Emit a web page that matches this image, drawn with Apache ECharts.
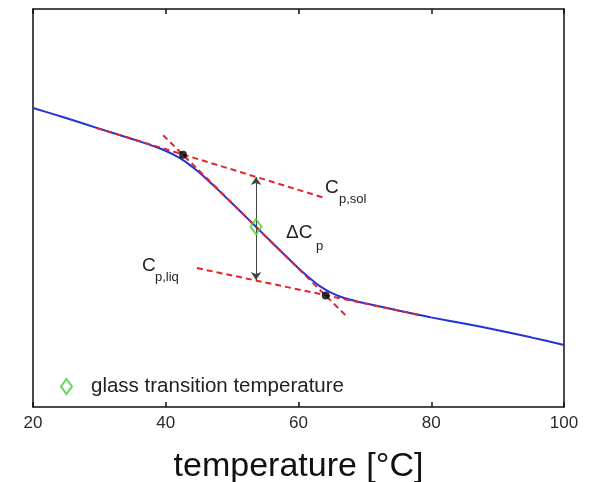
<!DOCTYPE html>
<html>
<head>
<meta charset="utf-8">
<script src="https://cdn.jsdelivr.net/npm/echarts@6/dist/echarts.min.js"></script>
<style>
html,body{margin:0;padding:0;background:#fff;}
#c{width:593px;height:482px;}
</style>
</head>
<body>
<div id="c"></div>
<script>
// x tick labels
var xTicks = [20, 40, 60, 80, 100];
// Measured curve (arbitrary y units)
var curveX = [20.00, 24.97, 29.94, 34.92, 37.63, 38.84, 40.04, 41.39, 42.60, 43.80, 44.40, 45.01, 46.21, 47.42,
              48.62, 49.98, 52.54, 54.95, 57.51, 59.92, 61.13, 62.49, 63.10, 63.69, 64.40, 65.05, 66.25, 67.46,
              68.81, 70.02, 72.43, 74.99, 77.50, 79.96, 84.93, 90.05, 95.02, 100.0];
var curveY = [75.13, 72.61, 69.95, 67.35, 65.87, 65.14, 64.32, 63.21, 62.02, 60.59, 59.81, 58.96, 57.19, 55.32,
              53.40, 51.19, 47.01, 43.05, 38.87, 35.01, 33.17, 31.28, 30.51, 29.85, 29.15, 28.60, 27.76, 27.12,
              26.53, 26.05, 25.19, 24.27, 23.39, 22.52, 21.00, 19.30, 17.50, 15.58];
// Tangent lines
var solX = [29.6, 64.0];
var solY = [70.1, 52.5];
var steepX = [39.6, 67.5];
var steepY = [68.3, 22.4];
var liqX = [44.7, 78.3];
var liqY = [34.9, 23.1];
// intersection points
var dotX = [42.6, 64.1];
var dotY = [63.4, 28.0];
// glass transition point
var tgX = [53.6];
var tgY = [45.3];
// delta Cp arrow
var arrowX = [53.6, 53.6];
var arrowY = [57.8, 31.9];

function zip(a, b) { return a.map(function (v, i) { return [v, b[i]]; }); }

var FONT = '"Liberation Sans", Arial, Helvetica, sans-serif';
var chart = echarts.init(document.getElementById('c'), null, {renderer: 'canvas'});
var red = '#e3242b';
var dashed = {color: red, width: 2, type: [6, 4]};

var option = {
  animation: false,
  backgroundColor: '#fff',
  grid: {left: 33, right: 29, top: 9, bottom: 75, containLabel: false, outerBoundsMode: 'none'},
  xAxis: [{
    type: 'value', min: 20, max: 100, interval: 20, position: 'bottom',
    axisLine: {show: true, onZero: false, lineStyle: {color: '#111', width: 1.5}},
    axisTick: {show: true, inside: true, length: 5, lineStyle: {color: '#111', width: 1.5}},
    axisLabel: {show: true, fontSize: 17, color: '#2a2a2a', fontFamily: FONT, margin: 8,
      formatter: function (v) { return xTicks.indexOf(v) >= 0 ? String(v) : ''; }},
    splitLine: {show: false},
    name: 'temperature [°C]', nameLocation: 'middle', nameGap: 43,
    nameTextStyle: {fontSize: 34, color: '#111', fontFamily: FONT}
  }, {
    type: 'value', min: 20, max: 100, interval: 20, position: 'top',
    axisLine: {show: true, onZero: false, lineStyle: {color: '#111', width: 1.5}},
    axisTick: {show: true, inside: true, length: 5, lineStyle: {color: '#111', width: 1.5}},
    axisLabel: {show: false}, splitLine: {show: false}
  }],
  yAxis: [{
    type: 'value', min: 0, max: 100, position: 'left',
    axisLine: {show: true, onZero: false, lineStyle: {color: '#111', width: 1.5}},
    axisTick: {show: false}, axisLabel: {show: false}, splitLine: {show: false}
  }, {
    type: 'value', min: 0, max: 100, position: 'right',
    axisLine: {show: true, onZero: false, lineStyle: {color: '#111', width: 1.5}},
    axisTick: {show: false}, axisLabel: {show: false}, splitLine: {show: false}
  }],
  legend: {
    data: ['glass transition temperature'],
    left: 60, top: 376, padding: 0,
    itemWidth: 11, itemHeight: 15,
    icon: 'diamond',
    itemStyle: {color: 'rgba(255,255,255,0)', borderColor: '#3ccf2a', borderWidth: 2},
    textStyle: {fontSize: 20.5, color: '#222', fontFamily: FONT, padding: [0, 0, 0, 14]}
  },
  series: [{
    name: 'curve', type: 'line', data: zip(curveX, curveY), smooth: 0.25,
    showSymbol: false, symbol: 'none', lineStyle: {color: '#2233d8', width: 2}, z: 2
  }, {
    name: 'Cp,sol', type: 'line', data: zip(solX, solY), symbol: 'none', lineStyle: dashed, z: 3
  }, {
    name: 'steep', type: 'line', data: zip(steepX, steepY), symbol: 'none', lineStyle: dashed, z: 3
  }, {
    name: 'Cp,liq', type: 'line', data: zip(liqX, liqY), symbol: 'none', lineStyle: dashed, z: 3
  }, {
    name: 'arrow', type: 'lines', coordinateSystem: 'cartesian2d',
    data: [{coords: zip(arrowX, arrowY)}],
    symbol: ['arrow', 'arrow'], symbolSize: 8,
    lineStyle: {color: '#444', width: 1, opacity: 1}, z: 4
  }, {
    name: 'dots', type: 'scatter', data: zip(dotX, dotY), symbol: 'circle', symbolSize: 8,
    itemStyle: {color: '#000'}, z: 5
  }, {
    name: 'glass transition temperature', type: 'scatter', data: zip(tgX, tgY),
    symbol: 'diamond', symbolSize: [11, 15],
    itemStyle: {color: 'rgba(255,255,255,0)', borderColor: '#3ccf2a', borderWidth: 2}, z: 6
  }],
  graphic: [
    {type: 'text', left: 325, top: 178, style: {text: 'C', fontSize: 19, fill: '#222', fontFamily: FONT}},
    {type: 'text', left: 339, top: 193, style: {text: 'p,sol', fontSize: 13, fill: '#222', fontFamily: FONT}},
    {type: 'text', left: 286, top: 223, style: {text: 'ΔC', fontSize: 19, fill: '#222', fontFamily: FONT}},
    {type: 'text', left: 316, top: 240, style: {text: 'p', fontSize: 13, fill: '#222', fontFamily: FONT}},
    {type: 'text', left: 142, top: 256, style: {text: 'C', fontSize: 19, fill: '#222', fontFamily: FONT}},
    {type: 'text', left: 155, top: 271, style: {text: 'p,liq', fontSize: 13, fill: '#222', fontFamily: FONT}}
  ]
};
chart.setOption(option);
</script>
</body>
</html>
